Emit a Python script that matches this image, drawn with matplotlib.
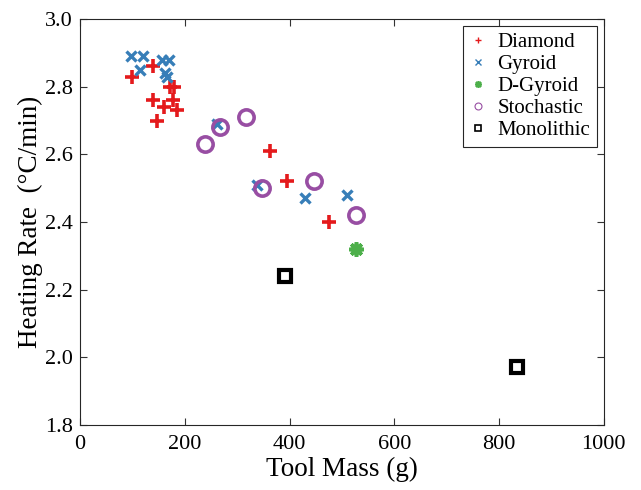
import matplotlib
matplotlib.use('Agg')
import matplotlib.pyplot as plt
from matplotlib.lines import Line2D

plt.rcParams['font.family'] = ['Liberation Serif', 'DejaVu Serif']

# ── Data ──
diamond_mass = [100, 140, 139, 147, 161, 172, 180, 178, 185, 363, 395, 476]
diamond_rate = [2.83, 2.86, 2.76, 2.70, 2.74, 2.80, 2.80, 2.76, 2.73, 2.61, 2.52, 2.40]

gyroid_mass = [97, 121, 115, 156, 169, 162, 165, 261, 337, 430, 509]
gyroid_rate = [2.89, 2.89, 2.85, 2.88, 2.88, 2.84, 2.83, 2.69, 2.51, 2.47, 2.48]

dgyroid_mass = [527]
dgyroid_rate = [2.32]

stoch_mass = [239, 267, 316, 347, 446, 527]
stoch_rate = [2.63, 2.68, 2.71, 2.50, 2.52, 2.42]

mono_mass = [392, 834]
mono_rate = [2.24, 1.97]

c_red = '#e41a1c'
c_blue = '#377eb8'
c_green = '#4daf4a'
c_purple = '#984ea3'

fig = plt.figure(figsize=(6.41, 4.90), dpi=100)
ax = fig.add_axes([0.125, 0.1327, 0.817, 0.8285])

ax.plot(diamond_mass, diamond_rate, ls='none', marker='+', ms=10, mew=2.6, color=c_red)
ax.plot(gyroid_mass, gyroid_rate, ls='none', marker='x', ms=7, mew=2.4, color=c_blue)
ax.plot(dgyroid_mass, dgyroid_rate, ls='none', marker=(8, 2, 0), ms=10.5, mew=2.6, color=c_green)
ax.plot(stoch_mass, stoch_rate, ls='none', marker='o', ms=11, mew=2.6,
        mfc='none', color=c_purple)
ax.plot(mono_mass, mono_rate, ls='none', marker='s', ms=8, mew=3,
        mfc='none', color='black')

ax.set_xlim(0, 1000)
ax.set_ylim(1.8, 3.0)
ax.set_xticks([0, 200, 400, 600, 800, 1000])
ax.set_yticks([1.8, 2.0, 2.2, 2.4, 2.6, 2.8, 3.0])
ax.set_yticklabels(['1.8', '2.0', '2.2', '2.4', '2.6', '2.8', '3.0'])
ax.tick_params(direction='in', top=True, right=True, labelsize=16,
               length=5, width=0.8, color='#333333')
ax.tick_params(axis='x', pad=7)
ax.tick_params(axis='y', pad=5)
for s in ax.spines.values():
    s.set_color('#262626')
    s.set_linewidth(0.8)

ax.set_xlabel('Tool Mass (g)', fontsize=19.5, labelpad=2)
ax.set_ylabel('Heating Rate  (°C/min)', fontsize=19.5, labelpad=2)

handles = [
    Line2D([], [], ls='none', marker='+', ms=5, mew=1, color=c_red, label='Diamond'),
    Line2D([], [], ls='none', marker='x', ms=4, mew=1, color=c_blue, label='Gyroid'),
    Line2D([], [], ls='none', marker=(8, 2, 0), ms=5, mew=1.2, color=c_green, label='D-Gyroid'),
    Line2D([], [], ls='none', marker='o', ms=5, mew=0.8, mfc='none', color=c_purple, label='Stochastic'),
    Line2D([], [], ls='none', marker='s', ms=4, mew=1.2, mfc='none', color='black', label='Monolithic'),
]
leg = ax.legend(handles=handles, loc='upper right', fontsize=15, fancybox=False,
                framealpha=1, edgecolor='#262626', handlelength=0.8,
                handletextpad=0.55, borderpad=0.3, labelspacing=0.12,
                borderaxespad=0.35)
leg.get_frame().set_linewidth(0.8)

fig.savefig('out.png', dpi=100)
